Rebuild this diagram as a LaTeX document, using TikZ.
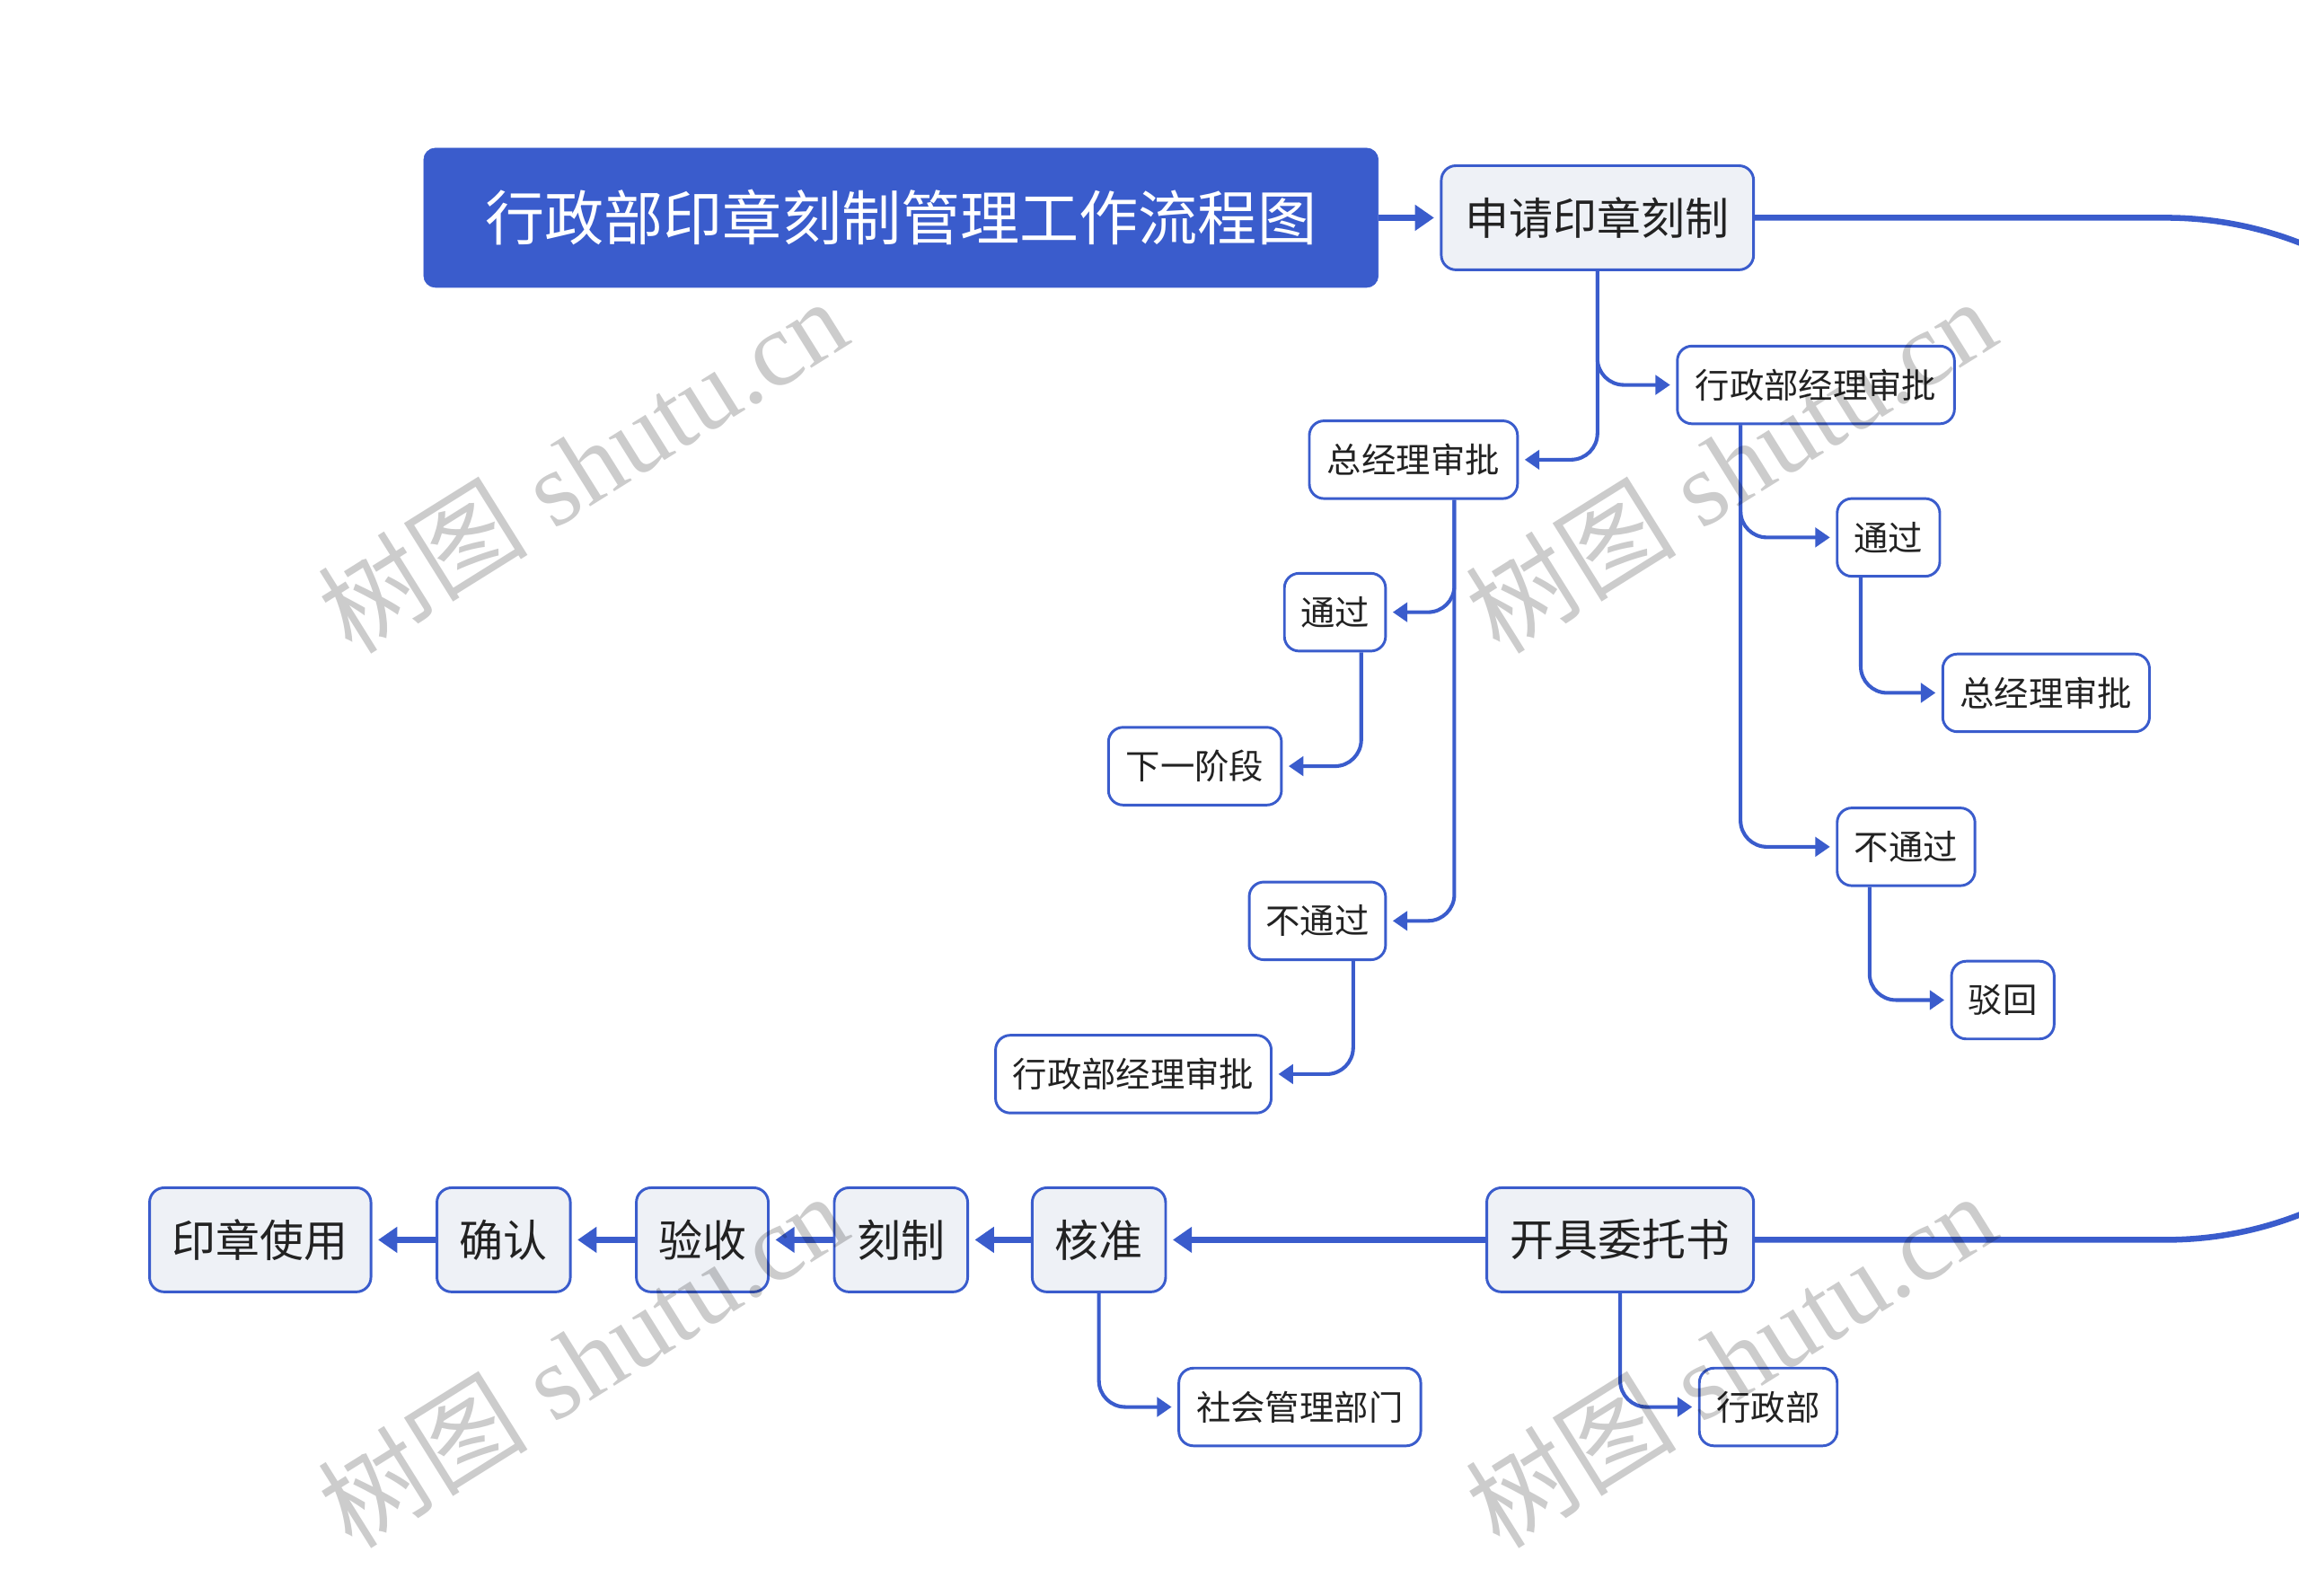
\documentclass[tikz,border=0pt]{standalone}
\usepackage{fontspec}
\newfontfamily\cjk{Noto Sans CJK SC}
\newfontfamily\wmf{Liberation Serif}
\usetikzlibrary{arrows.meta,calc}
\definecolor{mainblue}{HTML}{3A5CCC}
\definecolor{boxfill}{HTML}{EEF1F6}
\definecolor{txt}{HTML}{222222}
\begin{document}
\begin{tikzpicture}[x=1pt,y=-1pt,
  titlebox/.style={rectangle,rounded corners=8pt,fill=mainblue,draw=mainblue,text=white,
    font=\cjk\fontsize{40.5}{48}\selectfont,inner sep=0pt,minimum height=95pt},
  bigbox/.style={rectangle,rounded corners=10pt,fill=boxfill,draw=mainblue,line width=1.8pt,text=txt,
    font=\cjk\fontsize{30}{36}\selectfont,inner sep=0pt,minimum height=71pt},
  smallbox/.style={rectangle,rounded corners=10pt,fill=white,draw=mainblue,line width=1.8pt,text=txt,
    font=\cjk\fontsize{23.5}{28}\selectfont,inner sep=0pt,minimum height=53pt},
  thick line/.style={draw=mainblue,line width=4pt},
  thin line/.style={draw=mainblue,line width=2.5pt,rounded corners=18pt},
  bigarrow/.style={thick line,-{Triangle[length=13pt,width=17pt]},shorten >=4pt},
  smallarrow/.style={thin line,-{Triangle[length=10pt,width=13pt]},shorten >=4pt},
  wm/.style={rotate=32,text=black,text opacity=0.2,font=\wmf\fontsize{72}{80}\selectfont,inner sep=0pt}
]
\useasboundingbox (0,0) rectangle (1568,1088.4);
\clip (0,0) rectangle (1568,1088.4);

% nodes
\node[titlebox,minimum width=651pt] (title) at (614.5,148.5) {行政部印章刻制管理工作流程图};
\node[bigbox,minimum width=213pt] (apply) at (1089.5,148.5) {申请印章刻制};

\node[smallbox,minimum width=189pt] (xz1) at (1238.5,262.5) {行政部经理审批};
\node[smallbox,minimum width=142pt] (zj1) at (964,313.5) {总经理审批};
\node[smallbox,minimum width=69pt] (tg1) at (910.5,417.5) {通过};
\node[smallbox,minimum width=118pt] (next) at (815,522.5) {下一阶段};
\node[smallbox,minimum width=93pt] (btg1) at (898.5,628) {不通过};
\node[smallbox,minimum width=188pt] (xz2) at (773,732.5) {行政部经理审批};
\node[smallbox,minimum width=70pt] (tg2) at (1288,366.5) {通过};
\node[smallbox,minimum width=141pt] (zj2) at (1395.5,472.5) {总经理审批};
\node[smallbox,minimum width=94pt] (btg2) at (1300,577.5) {不通过};
\node[smallbox,minimum width=70pt] (bh) at (1366,682) {驳回};

\node[bigbox,minimum width=151pt] (yzsy) at (177.5,845.5) {印章使用};
\node[bigbox,minimum width=91pt] (qr) at (343.5,845.5) {确认};
\node[bigbox,minimum width=90pt] (ys) at (479,845.5) {验收};
\node[bigbox,minimum width=91pt] (kz) at (614.5,845.5) {刻制};
\node[bigbox,minimum width=91pt] (hz) at (749.5,845.5) {核准};
\node[bigbox,minimum width=182pt] (kj) at (1105,845.5) {开具委托书};
\node[smallbox,minimum width=165pt] (shgl) at (886.5,959.5) {社会管理部门};
\node[smallbox,minimum width=94pt] (xzb) at (1206,959.5) {行政部};

% connectors
\draw[bigarrow] (title.east) -- (apply.west);
\draw[thick line,rounded corners=252pt] (apply.east) -- (1729,148.5) -- (1729,845.5) -- (kj.east);

\draw[smallarrow] (apply.south) |- (xz1.west);
\draw[smallarrow] (apply.south) |- (zj1.east);

\draw[smallarrow] ([xshift=-44pt]zj1.south east) |- (tg1.east);
\draw[smallarrow] ([xshift=-44pt]zj1.south east) |- (btg1.east);
\draw[smallarrow] ([xshift=-17.5pt]tg1.south east) |- (next.east);
\draw[smallarrow] ([xshift=-23pt]btg1.south east) |- (xz2.east);

\draw[smallarrow] ([xshift=44pt]xz1.south west) |- (tg2.west);
\draw[smallarrow] ([xshift=44pt]xz1.south west) |- (btg2.west);
\draw[smallarrow] ([xshift=17pt]tg2.south west) |- (zj2.west);
\draw[smallarrow] ([xshift=23pt]btg2.south west) |- (bh.west);

\draw[bigarrow] (kj.west) -- (hz.east);
\draw[bigarrow] (hz.west) -- (kz.east);
\draw[bigarrow] (kz.west) -- (ys.east);
\draw[bigarrow] (ys.west) -- (qr.east);
\draw[bigarrow] (qr.west) -- (yzsy.east);

\draw[smallarrow] (hz.south) |- (shgl.west);
\draw[smallarrow] (kj.south) |- (xzb.west);

% watermarks (drawn over, translucent)
\node[wm] (wm1) at (397,317) {{\cjk 树图} shutu.cn};
\node[wm] (wm2) at (1180,317) {{\cjk 树图} shutu.cn};
\node[wm] (wm3) at (397,927) {{\cjk 树图} shutu.cn};
\node[wm] (wm4) at (1180,927) {{\cjk 树图} shutu.cn};
\end{tikzpicture}
\end{document}
